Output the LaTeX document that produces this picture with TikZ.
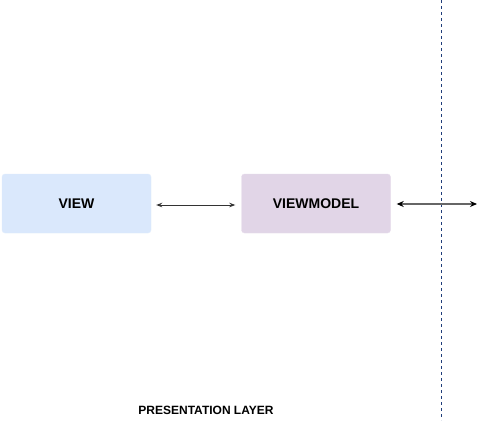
\documentclass[tikz,border=0pt]{standalone}
\usepackage{fontspec}
\setmainfont{Liberation Sans}
\usetikzlibrary{arrows.meta}
\definecolor{viewfill}{HTML}{DAE8FC}
\definecolor{vmfill}{HTML}{E1D5E7}
\definecolor{arrgray}{HTML}{333333}
\definecolor{arr2gray}{HTML}{666666}
\definecolor{sepcol}{HTML}{3366CC}
\begin{document}
\begin{tikzpicture}[x=1pt,y=-1pt,
  boxstyle/.style={rounded corners=3pt, inner sep=0pt, minimum width=149pt, minimum height=59pt, font=\bfseries\fontsize{14}{16}\selectfont},
  lbl/.style={font=\bfseries\fontsize{12}{14}\selectfont, inner sep=0pt}]
\useasboundingbox[fill=white] (0,0) rectangle (487,423);
\node[boxstyle, fill=viewfill, draw=viewfill!80!white] (view) at (76.5,203.5) {VIEW};
\node[boxstyle, fill=vmfill, draw=vmfill!80!white] (vm) at (316,203.5) {VIEWMODEL};
\coordinate (sepTop) at (441,0);
\coordinate (sepBot) at (441,420);
\draw[sepcol!60!black, dash pattern=on 3pt off 3pt, line width=0.8pt] (sepTop) -- (sepBot);
\coordinate (rightEnd) at (477,204);
\draw[arrgray, line width=1pt, {Stealth[length=6pt,width=4.5pt]}-{Stealth[length=6pt,width=4.5pt]}] ([xshift=5pt,yshift=-1.5pt]view.east) -- ([xshift=-6pt,yshift=-1.5pt]vm.west);
\draw[arr2gray, line width=1.3pt, {Stealth[length=7pt,width=6pt,black]}-{Stealth[length=7pt,width=6pt,black]}] ([xshift=6pt]vm.east |- rightEnd) -- (rightEnd);
\node[lbl] (layer) at (206,410) {PRESENTATION LAYER};
\end{tikzpicture}
\end{document}
